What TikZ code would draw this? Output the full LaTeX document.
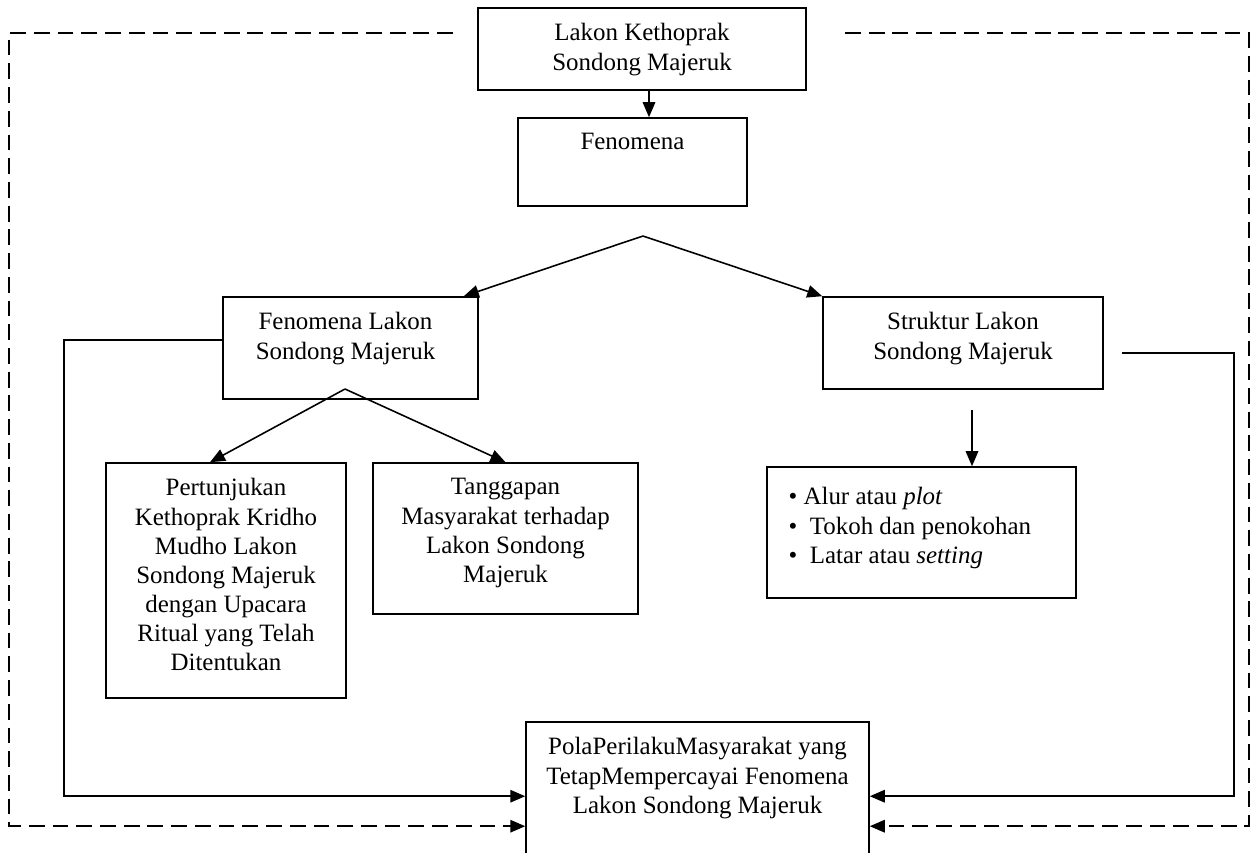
\documentclass[tikz,border=0pt]{standalone}
\usepackage{fontspec}
\setmainfont{Liberation Serif}
\usetikzlibrary{arrows.meta,positioning,calc}

\tikzset{
  box/.style={draw, line width=0.9pt, inner sep=0pt},
  txt/.style={align=center, inner sep=0pt, font=\fontsize{14.2}{16.6}\selectfont},
  arr/.style={line width=0.9pt, -{Triangle[length=0.3cm,width=0.25cm]}},
  dashline/.style={arr, dash pattern=on 9pt off 4.5pt},
}

\begin{document}
\begin{tikzpicture}[x=0.02cm, y=-0.02cm]
    \clip (0,0) rectangle (1257,852);
    \node[box, minimum width=6.56cm, minimum height=1.64cm] (lakon) at (642,49) {};
    \node[box, minimum width=4.58cm, minimum height=1.76cm] (fen) at (632.5,162) {};
    \node[box, minimum width=5.10cm, minimum height=2.04cm] (fl) at (350.5,348) {};
    \node[box, minimum width=5.60cm, minimum height=1.84cm] (st) at (963,343) {};
    \node[box, minimum width=4.80cm, minimum height=4.70cm] (pj) at (226,580.5) {};
    \node[box, minimum width=5.30cm, minimum height=3.02cm] (tg) at (505.5,538.5) {};
    \node[box, minimum width=6.18cm, minimum height=2.62cm] (al) at (921.5,532.5) {};
    \node[box, minimum width=6.86cm, minimum height=3.56cm] (pp) at (697.5,811) {};

    \node[txt, below=0.32cm of lakon.north] (lakont) {Lakon Kethoprak\\Sondong Majeruk};
    \node[txt, below=0.32cm of fen.north] (fent) {Fenomena};
    \node[txt, below=0.32cm of fl.north, xshift=-0.1cm] (flt) {Fenomena Lakon\\Sondong Majeruk};
    \node[txt, below=0.32cm of st.north] (stt) {Struktur Lakon\\Sondong Majeruk};
    \node[txt, below=0.32cm of pj.north] (pjt) {Pertunjukan\\Kethoprak Kridho\\Mudho Lakon\\Sondong Majeruk\\dengan Upacara\\Ritual yang Telah\\Ditentukan};
    \node[txt, below=0.32cm of tg.north] (tgt) {Tanggapan\\Masyarakat terhadap\\Lakon Sondong\\Majeruk};
    \node[txt, align=left, anchor=north west] (alt) at ([xshift=0.44cm,yshift=-0.42cm]al.north west)
        {\textbullet\ Alur atau \textit{plot}\\\textbullet\ \ Tokoh dan penokohan\\\textbullet\ \ Latar atau \textit{setting}};
    \node[txt, below=0.32cm of pp.north] (ppt) {PolaPerilakuMasyarakat yang\\TetapMempercayai Fenomena\\Lakon Sondong Majeruk};

    \coordinate (ap1) at (643,236);
    \coordinate (ap2) at (345,389);
    \coordinate (stb) at (972,410);
    \coordinate (lk) at (64,340);
    \coordinate (rs) at (1122,353);
    \coordinate (rk) at (1234,353);
    \coordinate (dl) at (453,33);
    \coordinate (dlk) at (9,33);
    \coordinate (dr) at (845,33);
    \coordinate (drk) at (1249,33);

    \draw[arr] ([xshift=0.14cm]lakon.south) -- ([xshift=0.14cm]lakon.south |- fen.north);
    \draw[arr] (ap1) -- ([xshift=-0.3cm]fl.north east);
    \draw[arr] (ap1) -- (st.north west);
    \draw[arr] (ap2) -- ([xshift=-0.32cm]pj.north);
    \draw[arr] (ap2) -- (tg.north);
    \draw[arr] (stb) -- (stb |- al.north);
    \draw[arr] (lk -| fl.west) -- (lk) |- ([yshift=-1.5cm]pp.north west);
    \draw[arr] (rs) -- (rk) |- ([yshift=-1.5cm]pp.north east);
    \draw[dashline] (dl) -- (dlk) |- ([yshift=-2.1cm]pp.north west);
    \draw[dashline] (dr) -- (drk) |- ([yshift=-2.1cm]pp.north east);
\end{tikzpicture}
\end{document}
